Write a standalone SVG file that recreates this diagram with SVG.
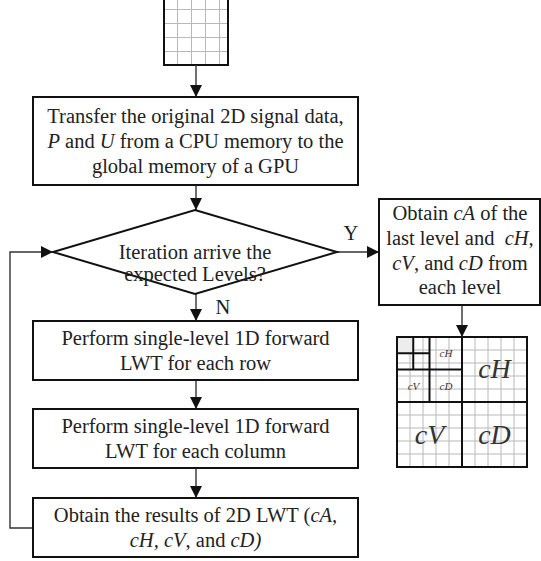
<svg xmlns="http://www.w3.org/2000/svg" width="541" height="561" viewBox="0 0 541 561">
<style>
.box{fill:#fff;stroke:#111;stroke-width:2}
.t{font-family:"Liberation Serif","Times New Roman",serif;font-size:20.5px;fill:#222;text-anchor:middle}
.i{font-style:italic}
.conn{fill:none;stroke:#333;stroke-width:1.4}
.grid{stroke:#b8b8b8;stroke-width:1;fill:none}
.thick{stroke:#111;stroke-width:2;fill:none}
.lbl{font-family:"Liberation Serif","Times New Roman",serif;font-style:italic;fill:#333;text-anchor:middle}
</style>
<defs>
<marker id="ah" markerUnits="userSpaceOnUse" markerWidth="12" markerHeight="12" refX="12" refY="6" orient="auto">
<path d="M0,0 L12,6 L0,12 z" fill="#111"/>
</marker>
</defs>
<rect width="541" height="561" fill="#fff"/>

<g id="input-grid">
<rect x="164" y="0" width="64" height="65" fill="#fff"/>
<path class="grid" d="M177.5,0V65M191.5,0V65M205.5,0V65M219.5,0V65M164,9.5H228M164,23.5H228M164,37.5H228M164,51.5H228"/>
<path class="thick" d="M164,0V65H228V0" stroke-width="1.6"/>
</g>

<g id="connectors">
<path class="conn" d="M196,65V97" marker-end="url(#ah)"/>
<path class="conn" d="M196,185V210" marker-end="url(#ah)"/>
<path class="conn" d="M196,294V321" marker-end="url(#ah)"/>
<path class="conn" d="M196,380V409" marker-end="url(#ah)"/>
<path class="conn" d="M196,468V498" marker-end="url(#ah)"/>
<path class="conn" d="M33,528H10V252H53" marker-end="url(#ah)"/>
<path class="conn" d="M337,252H379" marker-end="url(#ah)"/>
<path class="conn" d="M462,305V337" marker-end="url(#ah)"/>
<text class="t" x="351" y="240">Y</text>
<text class="t" x="223" y="314">N</text>
</g>

<g id="transfer">
<rect class="box" x="33" y="97" width="325" height="88"/>
<text class="t" x="195.5" y="123">Transfer the original 2D signal data,</text>
<text class="t" x="195.5" y="148"><tspan class="i">P</tspan> and <tspan class="i">U</tspan> from a CPU memory to the</text>
<text class="t" x="195.5" y="173">global memory of a GPU</text>
</g>

<g id="decision">
<path class="box" d="M195,210 L337,252 L195,294 L53,252 Z"/>
<text class="t" x="195" y="259">Iteration arrive the</text>
<text class="t" x="195" y="281">expected Levels?</text>
</g>

<g id="row-lwt">
<rect class="box" x="33" y="321" width="325" height="59"/>
<text class="t" x="195.5" y="345">Perform single-level 1D forward</text>
<text class="t" x="195.5" y="370">LWT for each row</text>
</g>

<g id="col-lwt">
<rect class="box" x="33" y="409" width="325" height="59"/>
<text class="t" x="195.5" y="433">Perform single-level 1D forward</text>
<text class="t" x="195.5" y="458">LWT for each column</text>
</g>

<g id="results">
<rect class="box" x="33" y="498" width="325" height="59"/>
<text class="t" x="195.5" y="522">Obtain the results of 2D LWT (<tspan class="i">cA,</tspan></text>
<text class="t" x="195.5" y="547"><tspan class="i">cH, cV</tspan>, and <tspan class="i">cD)</tspan></text>
</g>

<g id="obtain">
<rect class="box" x="379" y="199" width="161" height="106"/>
<text class="t" x="460" y="220">Obtain <tspan class="i">cA</tspan> of the</text>
<text class="t" x="460" y="245" xml:space="preserve">last level and  <tspan class="i">cH,</tspan></text>
<text class="t" x="460" y="270"><tspan class="i">cV</tspan>, and <tspan class="i">cD</tspan> from</text>
<text class="t" x="460" y="294">each level</text>
</g>

<g id="output-grid">
<rect x="397" y="337" width="130" height="130" fill="#fff"/>
<path class="grid" d="M410,337V467M423,337V467M436,337V467M449,337V467M475,337V467M488,337V467M501,337V467M514,337V467M397,350H527M397,363H527M397,376H527M397,389H527M397,415H527M397,428H527M397,441H527M397,454H527"/>
<rect x="397" y="337" width="16.25" height="16.25" fill="#ededed"/>
<path class="thick" d="M397,337H527V467H397Z M462,337V467 M397,402H527 M429.5,337V402 M397,369.5H462 M413.25,337V369.5 M397,353.25H429.5"/>
<text class="lbl" x="446" y="357" font-size="11">cH</text>
<text class="lbl" x="413.5" y="390" font-size="11">cV</text>
<text class="lbl" x="446" y="390" font-size="11">cD</text>
<text class="lbl" x="494.5" y="378" font-size="28">cH</text>
<text class="lbl" x="429.5" y="444" font-size="28">cV</text>
<text class="lbl" x="494.5" y="444" font-size="28">cD</text>
</g>
</svg>
